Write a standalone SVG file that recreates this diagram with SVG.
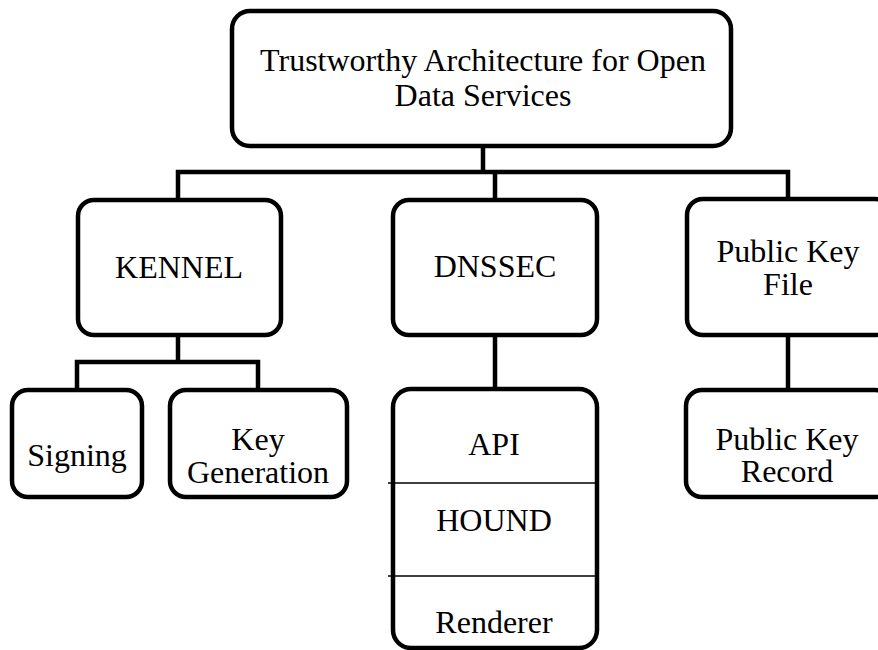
<svg xmlns="http://www.w3.org/2000/svg" width="878" height="650" viewBox="0 0 878 650">
<style>
.box{fill:#fff;stroke:#000;stroke-width:4.5}
.ln{fill:none;stroke:#000;stroke-width:4.5}
.div{stroke:#000;stroke-width:1.5}
.t{font-family:'Liberation Serif','Times New Roman',serif;font-size:32px;fill:#000;text-anchor:middle}
</style>
<rect width="878" height="650" fill="#fff"/>
<g id="connectors">
<path class="ln" d="M483,146 V172 M178,199 V172 H788 V199 M495,172 V199"/>
<path class="ln" d="M178,335 V362 M77,390 V362 H258 V390"/>
<path class="ln" d="M495,335 V389"/>
<path class="ln" d="M788,335 V390"/>
</g>
<g id="root">
<rect class="box" x="232" y="11" width="499" height="135" rx="18"/>
<text class="t" x="483" y="71">Trustworthy Architecture for Open</text>
<text class="t" x="483" y="106">Data Services</text>
</g>
<g id="kennel">
<rect class="box" x="78" y="200" width="203" height="135" rx="16"/>
<text class="t" x="179" y="278">KENNEL</text>
</g>
<g id="dnssec">
<rect class="box" x="393" y="200" width="204" height="135" rx="16"/>
<text class="t" x="495" y="277">DNSSEC</text>
</g>
<g id="pkfile">
<rect class="box" x="687" y="199" width="204" height="136" rx="16"/>
<text class="t" x="788" y="262">Public Key</text>
<text class="t" x="788" y="295">File</text>
</g>
<g id="signing">
<rect class="box" x="12" y="390" width="130" height="107" rx="16"/>
<text class="t" x="77" y="466">Signing</text>
</g>
<g id="keygen">
<rect class="box" x="170" y="390" width="177" height="107" rx="16"/>
<text class="t" x="258" y="450">Key</text>
<text class="t" x="258" y="483">Generation</text>
</g>
<g id="stack">
<rect class="box" x="393" y="389" width="204" height="259" rx="18"/>
<line class="div" x1="388" y1="483" x2="598" y2="483"/>
<line class="div" x1="388" y1="576" x2="598" y2="576"/>
<text class="t" x="494" y="455">API</text>
<text class="t" x="494" y="531">HOUND</text>
<text class="t" x="494" y="633">Renderer</text>
</g>
<g id="pkrecord">
<rect class="box" x="686" y="390" width="205" height="107" rx="16"/>
<text class="t" x="787" y="450">Public Key</text>
<text class="t" x="787" y="482">Record</text>
</g>
</svg>
